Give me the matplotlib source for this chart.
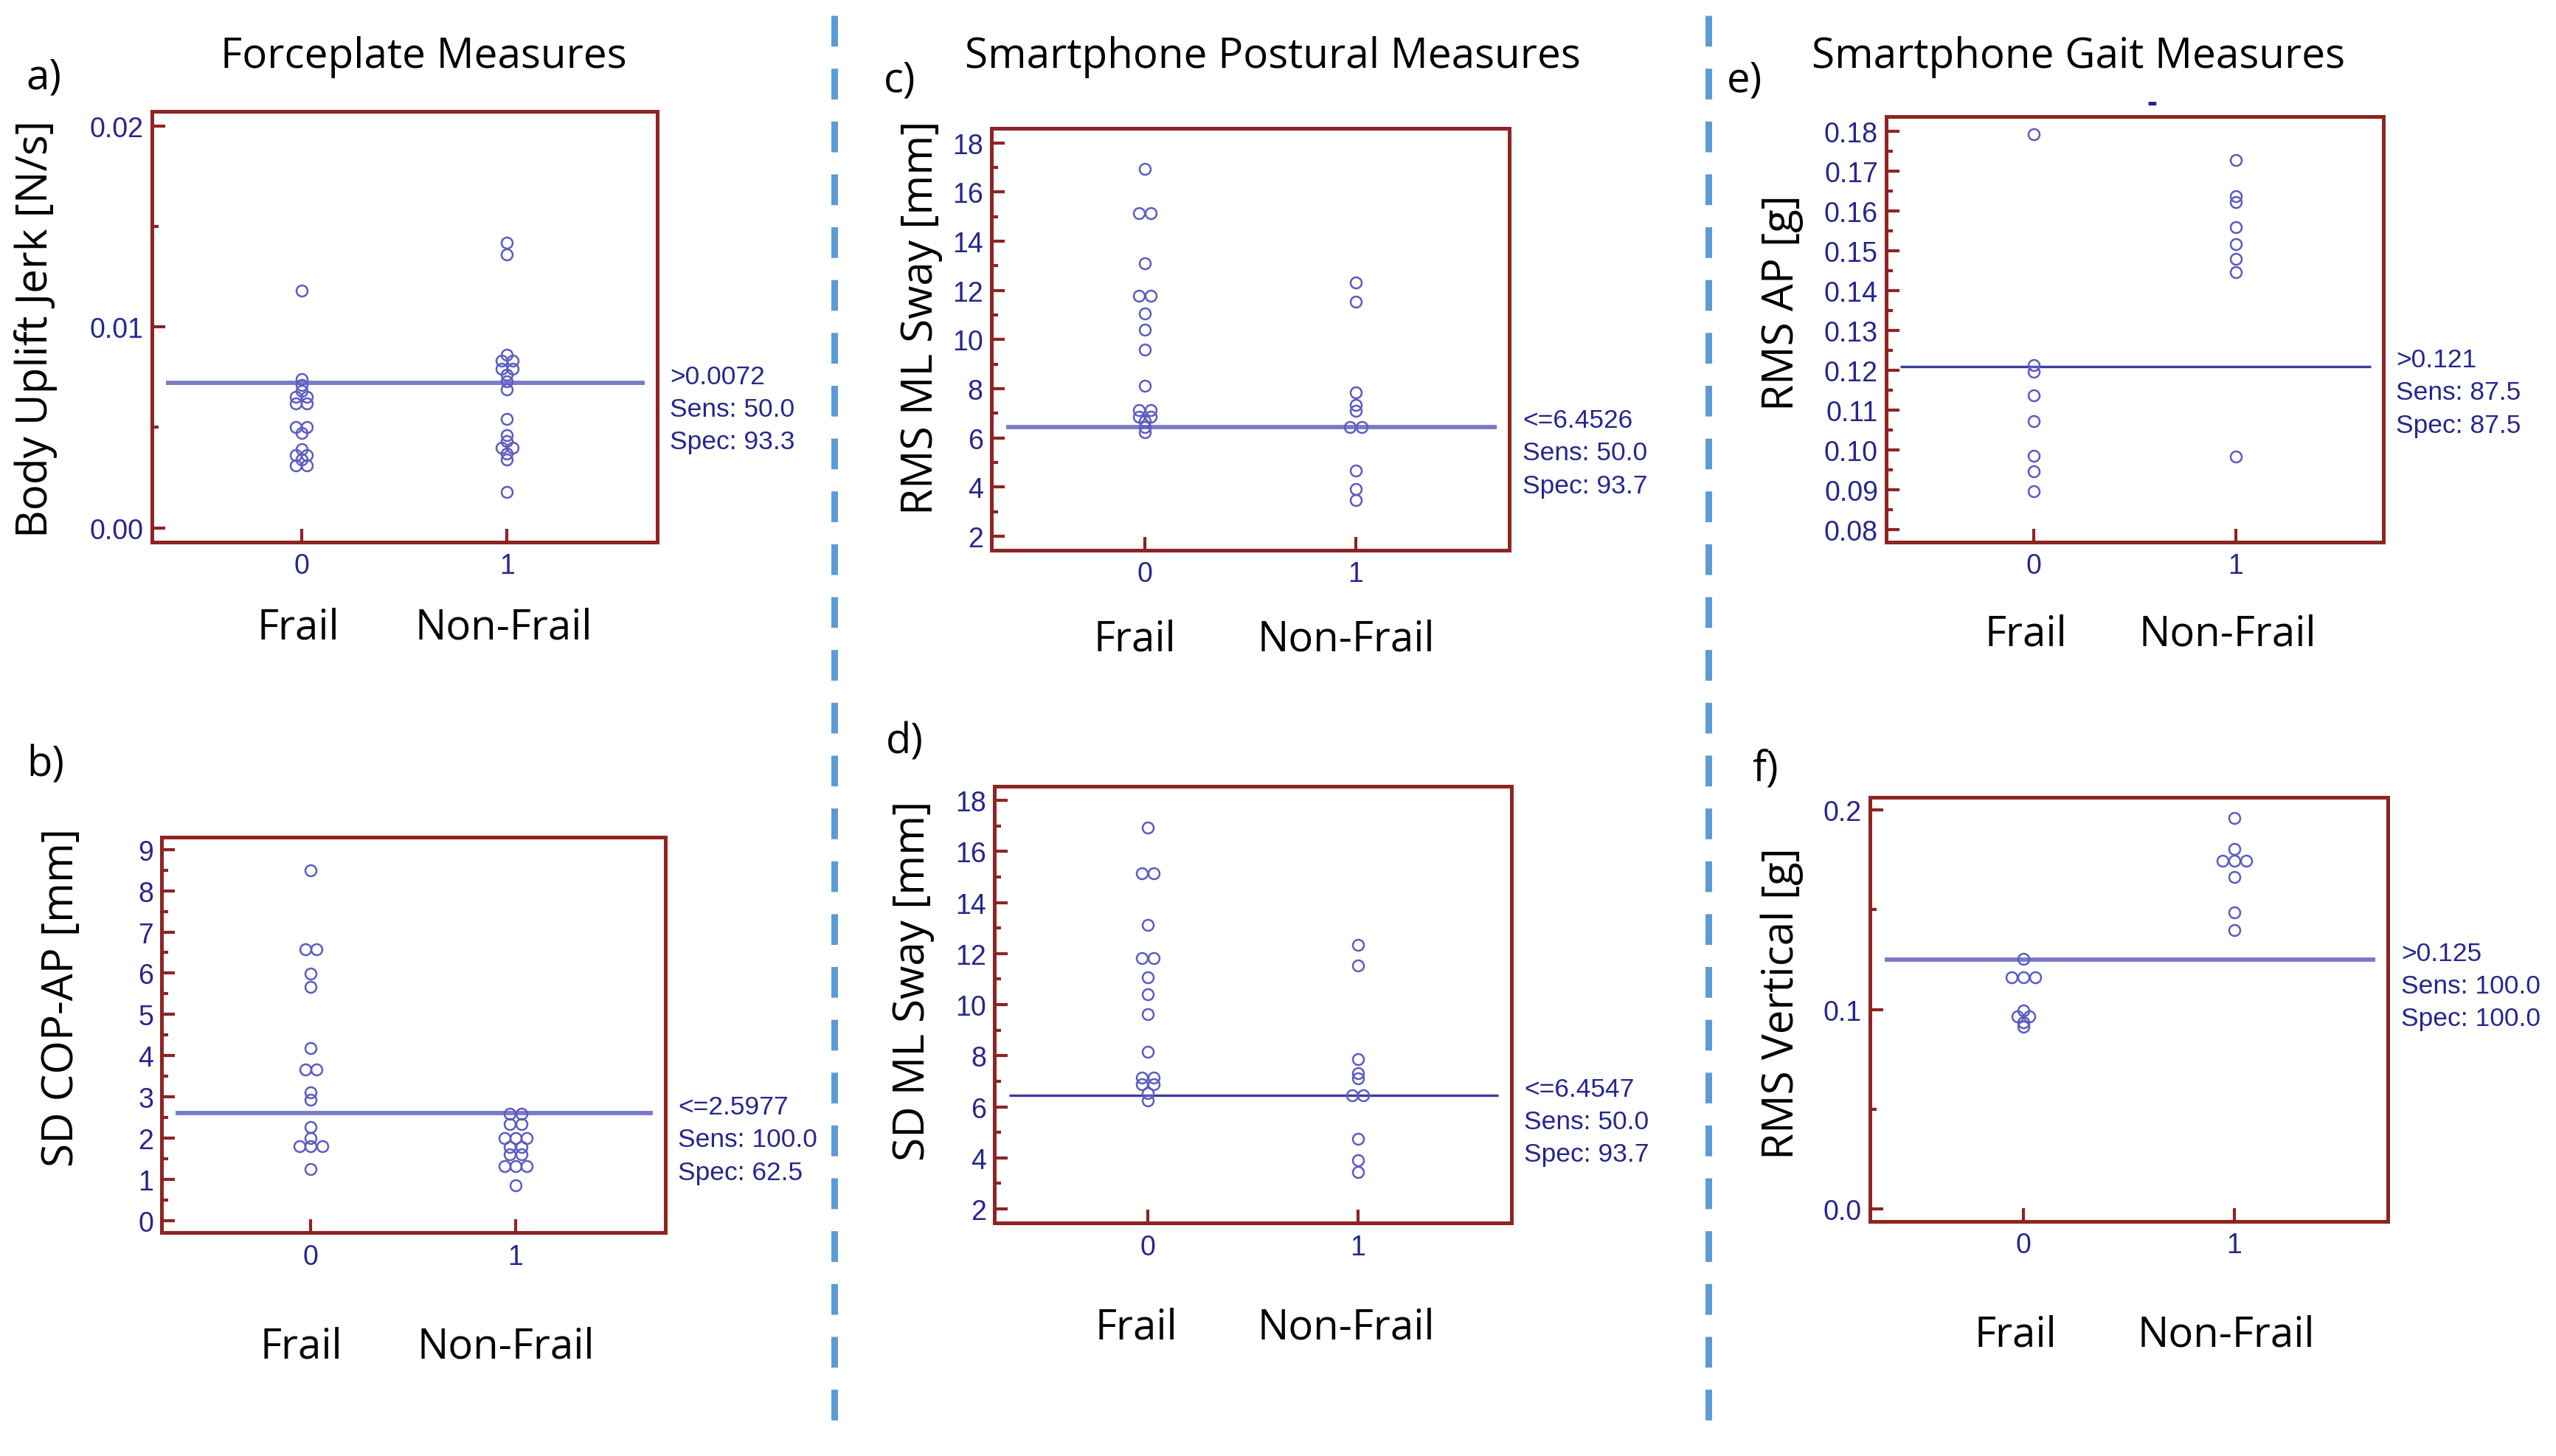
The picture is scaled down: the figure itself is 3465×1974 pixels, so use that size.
import numpy as np
import matplotlib.pyplot as plt
from matplotlib.lines import Line2D
from matplotlib.ticker import MultipleLocator, FormatStrFormatter

plt.rcParams['font.family'] = ['Open Sans', 'DejaVu Sans']

# values (group 0 = Frail, group 1 = Non-Frail)
a_frail = [0.0118, 0.0074, 0.0071, 0.0068, 0.0065, 0.0065, 0.0062, 0.0062,
           0.0050, 0.0050, 0.0047, 0.0039, 0.0036, 0.0036, 0.0034, 0.0031, 0.0031]
a_nonfrail = [0.0142, 0.0136, 0.0086, 0.0083, 0.0083, 0.0079, 0.0079, 0.0076,
              0.0073, 0.0069, 0.0054, 0.0046, 0.0043, 0.0040, 0.0040, 0.0037,
              0.0034, 0.0018]
b_frail = [8.49, 6.58, 6.58, 5.99, 5.66, 4.18, 3.67, 3.67, 3.10, 2.93, 2.26,
           2.00, 1.80, 1.80, 1.80, 1.24]
b_nonfrail = [2.58, 2.58, 2.33, 2.33, 2.00, 2.00, 2.00, 1.78, 1.78, 1.60, 1.60,
              1.32, 1.32, 1.32, 0.85]
c_frail = [16.93, 15.13, 15.13, 13.10, 11.77, 11.77, 11.07, 10.40, 9.60, 8.13,
           7.13, 7.13, 6.87, 6.87, 6.67, 6.45, 6.22]
c_nonfrail = [12.33, 11.53, 7.84, 7.33, 7.09, 6.44, 6.44, 4.67, 3.93, 3.47]
d_frail = [16.93, 15.14, 15.14, 13.12, 11.82, 11.82, 11.08, 10.40, 9.62, 8.15,
           7.15, 7.15, 6.88, 6.88, 6.53, 6.26]
d_nonfrail = [12.34, 11.52, 7.87, 7.32, 7.12, 6.44, 6.44, 4.75, 3.92, 3.44]
e_frail = [0.1792, 0.1213, 0.1196, 0.1137, 0.1073, 0.0986, 0.0947, 0.0896]
e_nonfrail = [0.1727, 0.1638, 0.1622, 0.1560, 0.1517, 0.1480, 0.1446, 0.0983]
f_frail = [0.1253, 0.116, 0.116, 0.116, 0.0997, 0.0967, 0.0967, 0.0937, 0.0912]
f_nonfrail = [0.196, 0.1806, 0.1745, 0.1745, 0.1745, 0.1665, 0.1488, 0.1400]

thresholds = [0.0072, 2.5977, 6.4526, 6.4547, 0.121, 0.125]
criteria = ['>0.0072', '<=2.5977', '<=6.4526', '<=6.4547', '>0.121', '>0.125']
sens = ['50.0', '100.0', '50.0', '50.0', '87.5', '100.0']
spec = ['93.3', '62.5', '93.7', '93.7', '87.5', '100.0']
ylabels = ['Body Uplift Jerk [N/s]', 'SD COP-AP [mm]', 'RMS ML Sway [mm]',
           'SD ML Sway [mm]', 'RMS AP [g]', 'RMS Vertical [g]']
letters = ['a)', 'b)', 'c)', 'd)', 'e)', 'f)']
titles = ['Forceplate Measures', 'Smartphone Postural Measures', 'Smartphone Gait Measures']
groups = ['Frail', 'Non-Frail']

SPINE = '#8E2424'
NAVY = '#26268F'
DOT = '#5C5CC2'
W, H = 1568, 894


def fx(px):
    return px / W


def fy(py):
    return 1 - py / H


def spread(vals, tol, dx=0.055):
    # side-by-side offsets for (almost) equal values, like a dot plot
    vals = np.asarray(vals)
    order = np.argsort(-vals, kind='stable')
    grp = []
    for i in order:
        if grp and abs(vals[grp[-1][0]] - vals[i]) < tol:
            grp[-1].append(i)
        else:
            grp.append([i])
    xs = np.zeros(len(vals))
    for g in grp:
        for k, i in enumerate(g):
            xs[i] = (k - (len(g) - 1) / 2) * dx
    return xs


# layout: axes box (left, top, right, bottom) in the 1568x894 view
boxes = [(93, 69, 403, 333), (99, 514, 408, 757), (608, 79, 926, 338),
         (610, 483, 927, 751), (1157, 72, 1462, 333), (1147, 490, 1465, 750)]
ylims = [(-0.0007, 0.0207), (-0.30, 9.31), (1.44, 18.6), (1.45, 18.55),
         (0.0769, 0.1837), (-0.0062, 0.2062)]
majors = [0.01, 1, 2, 2, 0.01, 0.1]
minors = [0.005, 0.5, 1, 1, 0.005, 0.05]
fmts = ['%.2f', '%d', '%d', '%d', '%.2f', '%.1f']
line_cols = ['#7A7AC6', '#7A7AC6', '#7A7AC6', '#3B3B9E', '#3B3B9E', '#7A7AC6']
line_lw = [1.4, 1.4, 1.4, 0.8, 0.8, 1.4]
ylab_pos = [(22, 202), (38, 612), (565, 195), (560, 602), (1093, 186), (1093, 616)]
letter_pos = [(27, 48), (28, 470), (552, 50), (555, 456), (1070, 50), (1083, 473)]
group_off = [28, 37, 29, 34, 30, 37]
group_dx = [-1.0, -3.2, -3.2, -3.7, -2.6, -2.6]
data = [(a_frail, a_nonfrail), (b_frail, b_nonfrail), (c_frail, c_nonfrail),
        (d_frail, d_nonfrail), (e_frail, e_nonfrail), (f_frail, f_nonfrail)]

fig = plt.figure(figsize=(11.55, 6.5833), dpi=300)

for i in range(6):
    l, t, r, b = boxes[i]
    ax = fig.add_axes([fx(l), fy(b), (r - l) / W, (b - t) / H])
    ax.set_xlim(-0.73, 1.73)
    ax.set_ylim(*ylims[i])
    tol = 0.006 * (ylims[i][1] - ylims[i][0])
    for g, vals in enumerate(data[i]):
        xs = g + spread(vals, tol)
        ax.plot(xs, vals, 'o', ls='none', ms=3.6, mfc='none', mec=DOT, mew=0.6, zorder=3)
    ax.hlines(thresholds[i], -0.66, 1.67, colors=line_cols[i], lw=line_lw[i], zorder=2)

    for s in ax.spines.values():
        s.set_color(SPINE)
        s.set_linewidth(1.2)
    ax.yaxis.set_major_locator(MultipleLocator(majors[i]))
    ax.yaxis.set_minor_locator(MultipleLocator(minors[i]))
    ax.yaxis.set_major_formatter(FormatStrFormatter(fmts[i]))
    ax.set_xticks([0, 1])
    ax.set_xticklabels(['0', '1'])
    ax.tick_params(axis='both', which='major', direction='in', length=4.3, width=1.0,
                   color=SPINE, labelcolor=NAVY, labelsize=9, top=False, right=False)
    ax.tick_params(axis='y', which='major', pad=2.6)
    ax.tick_params(axis='x', which='major', pad=3.5)
    ax.tick_params(axis='y', which='minor', direction='in', length=2.2, width=1.0,
                   color=SPINE, right=False)
    for lab in ax.get_xticklabels() + ax.get_yticklabels():
        lab.set_family(['Liberation Sans', 'DejaVu Sans'])

    for g, name in enumerate(groups):
        ax.annotate(name, xy=(g, 0), xycoords=('data', 'axes fraction'),
                    xytext=(group_dx[i], -group_off[i]), textcoords='offset points',
                    ha='center', va='center', fontsize=13.5)

    notes = [criteria[i], 'Sens: ' + sens[i], 'Spec: ' + spec[i]]
    for k, txt in enumerate(notes):
        ax.annotate(txt, xy=(1, thresholds[i]), xycoords=('axes fraction', 'data'),
                    xytext=(4.2, 2.1 - 10.6 * k), textcoords='offset points',
                    ha='left', va='center', fontsize=8.5, color=NAVY,
                    family=['Liberation Sans', 'DejaVu Sans'], annotation_clip=False)

    px, py = ylab_pos[i]
    fig.text(fx(px), fy(py), ylabels[i], rotation=90, ha='center', va='center', fontsize=14)
    px, py = letter_pos[i]
    fig.text(fx(px), fy(py), letters[i], ha='center', va='center', fontsize=13.5)

for title, px in zip(titles, [260, 781, 1275]):
    fig.text(fx(px), fy(35), title, ha='center', va='center', fontsize=13.6)

# stray mark above panel e in the original
fig.text(fx(1320), fy(64), '-', ha='center', va='center', fontsize=10,
         fontweight='bold', color=NAVY, family=['Liberation Sans', 'DejaVu Sans'])

# dashed separators between the three columns
for px in [512, 1048]:
    fig.add_artist(Line2D([fx(px), fx(px)], [0.989, 0.019], transform=fig.transFigure,
                          color='#5B9BD5', lw=2.16, ls=(0, (4.63, 3.33)),
                          solid_capstyle='butt', dash_capstyle='butt'))

fig.savefig('out.png', dpi=300, facecolor='white')
